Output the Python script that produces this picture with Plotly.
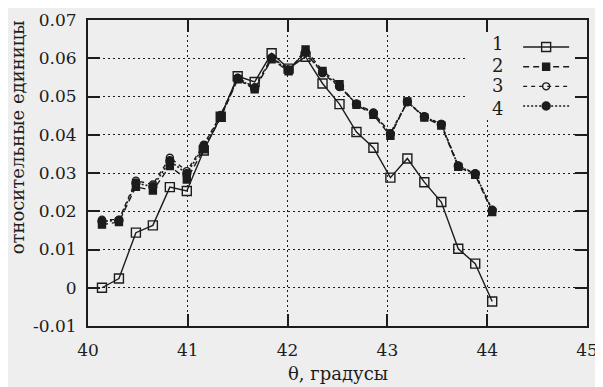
import plotly.graph_objects as go

theta = [40.14, 40.31, 40.48, 40.65, 40.82, 40.99, 41.16, 41.33, 41.50, 41.67, 41.84, 42.01,
         42.18, 42.35, 42.52, 42.69, 42.86, 43.03, 43.20, 43.37, 43.54, 43.71, 43.88, 44.05]

series1 = [0.0000, 0.0024, 0.0144, 0.0163, 0.0263, 0.0253, 0.0359, 0.0447, 0.0553, 0.0538, 0.0613, 0.0573,
           0.0604, 0.0534, 0.0480, 0.0407, 0.0366, 0.0288, 0.0338, 0.0276, 0.0224, 0.0102, 0.0063, -0.0036]
series2 = [0.0165, 0.0172, 0.0264, 0.0254, 0.0318, 0.0283, 0.0362, 0.0445, 0.0545, 0.0519, 0.0597, 0.0566,
           0.0623, 0.0567, 0.0532, 0.0478, 0.0452, 0.0397, 0.0487, 0.0445, 0.0424, 0.0316, 0.0295, 0.0198]
series3 = [0.0178, 0.0178, 0.0280, 0.0270, 0.0340, 0.0305, 0.0374, 0.0452, 0.0549, 0.0524, 0.0602, 0.0571,
           0.0614, 0.0561, 0.0525, 0.0481, 0.0458, 0.0404, 0.0486, 0.0448, 0.0428, 0.0320, 0.0298, 0.0204]
series4 = [0.0174, 0.0176, 0.0274, 0.0264, 0.0332, 0.0298, 0.0370, 0.0449, 0.0547, 0.0521, 0.0600, 0.0569,
           0.0616, 0.0563, 0.0527, 0.0480, 0.0456, 0.0402, 0.0486, 0.0447, 0.0427, 0.0318, 0.0298, 0.0202]

names = ["1", "2", "3", "4"]
x_ticks = [40, 41, 42, 43, 44, 45]
y_ticks = [-0.01, 0, 0.01, 0.02, 0.03, 0.04, 0.05, 0.06, 0.07]
y_ticklabels = ["-0.01", "0", "0.01", "0.02", "0.03", "0.04", "0.05", "0.06", "0.07"]

ink = "#1c1c1c"
bg = "#eeeeee"
font_family = "DejaVu Serif"

fig = go.Figure()

styles = [
    dict(dash="solid", symbol="square-open", size=9, lw=1.4),
    dict(dash="6px,4px", symbol="square", size=7, lw=1.4),
    dict(dash="4px,4px", symbol="circle-open", size=7, lw=1.4),
    dict(dash="2px,2px", symbol="circle", size=8, lw=1.6),
]
all_series = [series1, series2, series3, series4]

for ser, st in zip(all_series, styles):
    fig.add_trace(go.Scatter(
        x=theta, y=ser, mode="lines+markers", name=" ",
        line=dict(color=ink, width=st["lw"], dash=st["dash"]),
        marker=dict(symbol=st["symbol"], size=st["size"], color=ink,
                    line=dict(color=ink, width=1.4)),
    ))

axis_common = dict(
    showline=True, linecolor=ink, linewidth=2, mirror="ticks",
    ticks="inside", ticklen=12, tickwidth=2, tickcolor=ink,
    showgrid=True, gridcolor=ink, gridwidth=1, griddash="2px,3px",
    zeroline=False, automargin=False,
    tickfont=dict(family=font_family, size=17, color=ink),
)

fig.update_xaxes(range=[40, 45], tickvals=x_ticks, ticktext=[str(v) for v in x_ticks],
                 ticklabelstandoff=8, **axis_common)
fig.update_yaxes(range=[-0.01, 0.07], tickvals=y_ticks, ticktext=y_ticklabels,
                 ticklabelstandoff=6, **axis_common)

# blank box behind the legend (hides the grid there)
fig.add_shape(type="rect", xref="x", yref="y", x0=43.8, x1=45, y0=0.0446, y1=0.07,
              fillcolor=bg, line=dict(width=0), layer="between")

annotations = [
    dict(text="θ, градусы", xref="paper", yref="paper", x=0.5, y=-0.155,
         xanchor="center", yanchor="middle", showarrow=False,
         font=dict(family=font_family, size=18, color=ink)),
    dict(text="относительные единицы", xref="paper", yref="paper", x=-0.142, y=0.617,
         xanchor="center", yanchor="middle", showarrow=False, textangle=-90,
         font=dict(family=font_family, size=18, color=ink)),
]
row_y = [0.9247, 0.8527, 0.7872, 0.7119]
for nm, yy in zip(names, row_y):
    annotations.append(dict(text=nm, xref="paper", yref="paper", x=0.8215, y=yy,
                            xanchor="center", yanchor="middle", showarrow=False,
                            font=dict(family=font_family, size=18, color=ink)))

fig.update_layout(
    width=595, height=379,
    margin=dict(l=80, r=16, t=12, b=61, autoexpand=False),
    paper_bgcolor=bg, plot_bgcolor=bg,
    showlegend=True,
    legend=dict(x=0.862, y=0.96, xanchor="left", yanchor="top",
                bgcolor="rgba(0,0,0,0)", itemwidth=46,
                font=dict(family=font_family, size=12.8, color=ink),
                tracegroupgap=0, itemclick=False),
    annotations=annotations,
)

fig.write_html("out.html")
